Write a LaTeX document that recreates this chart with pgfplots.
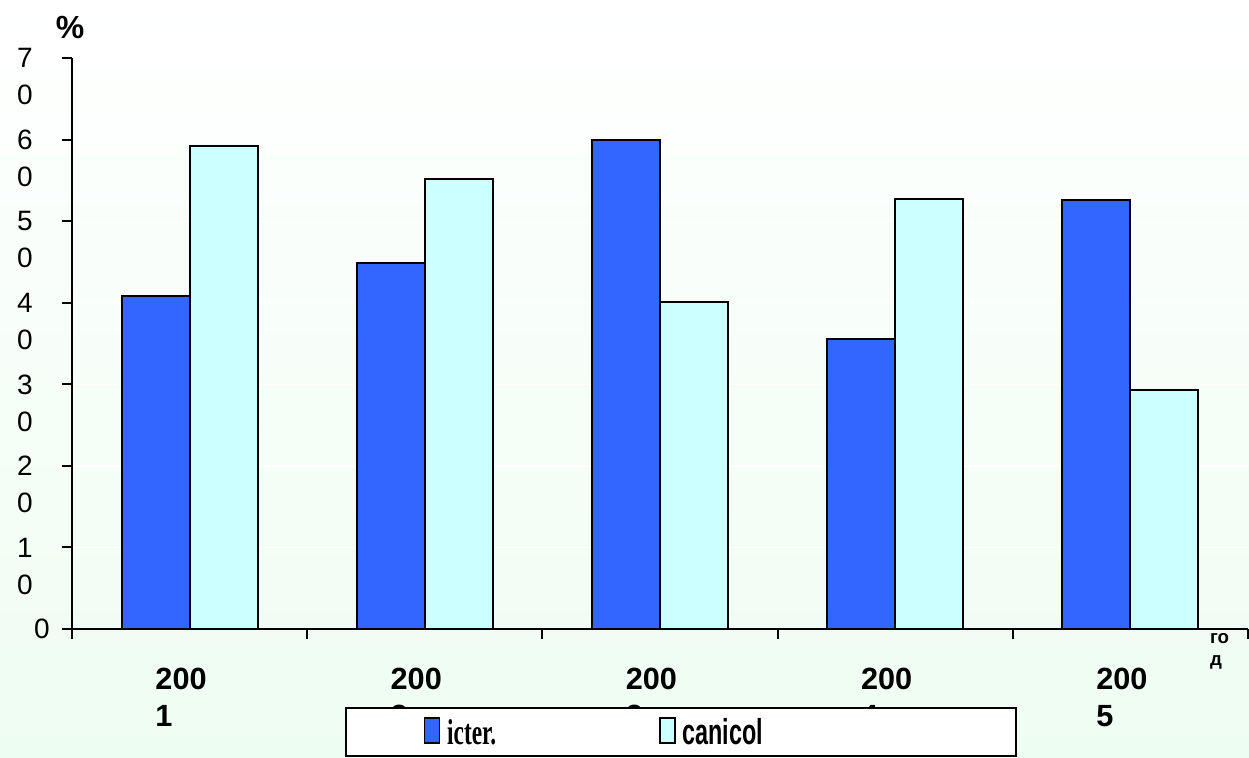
\documentclass[border=0pt]{standalone}
\usepackage{fontspec}
\setmainfont{Liberation Sans}
\newfontfamily\serifbf{Liberation Serif}
\usepackage{graphicx}
\usepackage{pgfplots}
\pgfplotsset{compat=1.18}

\definecolor{icter}{RGB}{51,102,255}
\definecolor{canicol}{RGB}{204,255,255}
\definecolor{bgbottom}{RGB}{238,253,242}

% value label split over two lines, first line carries the height
\newcommand{\twoline}[2]{\raisebox{0pt}[\height][0pt]{\vtop{\baselineskip=27.75pt\lineskiplimit=-50pt\hbox{#1}\hbox{#2}}}\kern12.75pt}
% year label: "200" over the last digit, left aligned
\newcommand{\yearlabel}[1]{\vtop{\baselineskip=27.75pt\lineskiplimit=-50pt\hbox{200\phantom{#1}}\hbox{#1}}}

\begin{document}
\begin{tikzpicture}
\shade[top color=white, bottom color=bgbottom] (0,0) rectangle (936.75pt,567.75pt);
\begin{axis}[
  at={(54pt,96pt)}, anchor=south west,
  scale only axis, width=882pt, height=428.25pt,
  xmin=0.5, xmax=5.5, ymin=0, ymax=70,
  axis lines*=left,
  axis line style={line width=1.5pt, black},
  ybar=0pt, bar width=51pt,
  xtick={0.5,1.5,...,5.5},
  x tick label as interval,
  xticklabels={\yearlabel{1},\yearlabel{2},\yearlabel{3},\yearlabel{4},\yearlabel{5}},
  ytick={0,10,...,70},
  yticklabels={\hbox{0},\twoline{1}{0},\twoline{2}{0},\twoline{3}{0},\twoline{4}{0},\twoline{5}{0},\twoline{6}{0},\twoline{7}{0}},
  tick align=outside,
  major tick length=7.5pt,
  tick style={line width=1.5pt, black},
  ymajorgrids,
  major grid style={white, line width=1pt},
  xticklabel style={anchor=north, inner sep=0pt, yshift=-21.75pt, font=\fontsize{23}{27.75}\selectfont\bfseries},
  yticklabel style={anchor=east, inner sep=0pt, xshift=-9pt, font=\fontsize{21}{27.75}\selectfont},
  /pgf/number format/assume math mode=true,
  clip=false,
  legend columns=2,
  legend style={at={(rel axis cs:0.5179,0)}, anchor=north, yshift=-58.5pt,
    draw=black, line width=1.5pt, fill=white,
    inner xsep=58.5pt, inner ysep=0pt,
    nodes={inner sep=0pt, text height=27pt, text depth=9pt, anchor=base west},
    /tikz/every odd column/.style={column sep=5.25pt},
    /tikz/every even column/.style={column sep=122.25pt}},
  legend image code/.code={\draw[#1, line width=1pt] (0pt,0.75pt) rectangle (11.25pt,19.5pt);},
]
\addplot[draw=black, line width=1.5pt, fill=icter] coordinates {
  (1,40.8) (2,44.9) (3,59.9) (4,35.6) (5,52.6)};
\addplot[draw=black, line width=1.5pt, fill=canicol] coordinates {
  (1,59.2) (2,55.2) (3,40.1) (4,52.7) (5,29.3)};
\addlegendentry{\scalebox{0.65}[1]{\fontsize{27}{30}\selectfont\serifbf\bfseries icter.}}
\addlegendentry{\scalebox{0.65}[1]{\fontsize{27}{30}\selectfont\bfseries canicol}\hspace*{131.25pt}}

\node[anchor=center, inner sep=0pt, font=\fontsize{24}{28}\selectfont\bfseries]
  at (rel axis cs:0,1) [xshift=-1.5pt, yshift=23.25pt] {\%};
\node[anchor=base west, inner sep=0pt, font=\fontsize{14}{17}\selectfont\bfseries]
  at (axis cs:5.338,0) [yshift=-10.5pt] {\vtop{\baselineskip=17pt\hbox{го}\hbox{д}}};
\end{axis}
\end{tikzpicture}
\end{document}
